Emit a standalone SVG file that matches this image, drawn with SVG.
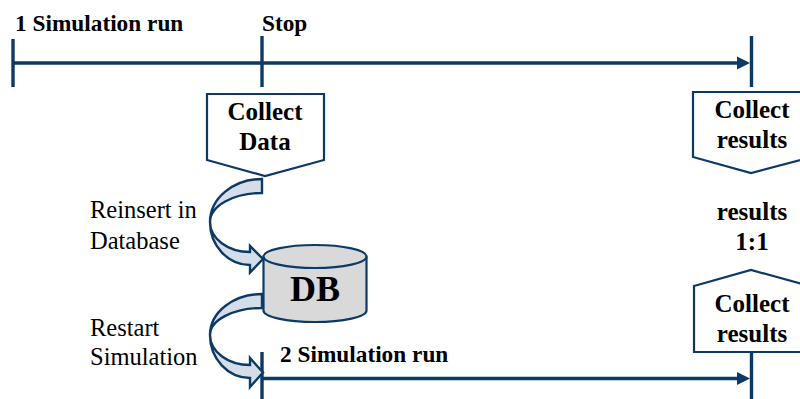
<svg xmlns="http://www.w3.org/2000/svg" width="800" height="399" viewBox="0 0 800 399">
<defs>
<style>
.tl{stroke:#0b3a66;stroke-width:3.4;fill:none}
.box{fill:#ffffff;stroke:#0b3a66;stroke-width:2.2}
.carrow{fill:#d5dee8;stroke:#0b3a66;stroke-width:2.4;stroke-linejoin:miter}
.head{fill:#0b3a66}
.bl{font-family:"Liberation Serif","Times New Roman",serif;font-weight:bold;fill:#000}
.rg{font-family:"Liberation Serif","Times New Roman",serif;fill:#000;font-size:24.5px}
.lbl{font-size:23.3px}
.bx{font-size:25px;text-anchor:middle}
</style>
</defs>
<rect width="800" height="399" fill="#ffffff"/>
<g id="connectors">
<line class="tl" x1="13" y1="63" x2="740" y2="63"/>
<polygon class="head" points="737,56.5 750,63 737,69.5"/>
<line class="tl" x1="13" y1="39" x2="13" y2="87"/>
<line class="tl" x1="262" y1="36" x2="262" y2="87"/>
<line class="tl" x1="751.5" y1="36" x2="751.5" y2="87"/>
<line class="tl" x1="262" y1="378.5" x2="740" y2="378.5"/>
<polygon class="head" points="737,372 750,378.5 737,385"/>
<line class="tl" x1="262" y1="352" x2="262" y2="399"/>
<line class="tl" x1="751.5" y1="352" x2="751.5" y2="399"/>
<path id="arrow-reinsert" class="carrow" d="M262,179 A52,43 0 0 0 210,222 A40,43 0 0 0 250,265 L250,272.5 L263,259 L250,246 L250,252 A40,30 0 0 1 210,222 A52,29 0 0 1 262,193 Z"/>
<path id="arrow-restart" class="carrow" d="M262,294 A52,41 0 0 0 210,335 A40,43 0 0 0 250,378 L250,387 L263,372.5 L250,358 L250,365 A40,30 0 0 1 210,335 A52,27 0 0 1 262,308 Z"/>
</g>
<g id="label-run1"><text class="bl lbl" x="15" y="31">1 Simulation run</text></g>
<g id="label-stop"><text class="bl lbl" x="262" y="31">Stop</text></g>
<g id="label-run2"><text class="bl lbl" x="280" y="362">2 Simulation run</text></g>
<g id="collect-data">
<polygon class="box" points="207,94 324,94 324,160 265,176 207,160"/>
<text class="bl bx" x="265" y="120">Collect</text>
<text class="bl bx" x="265" y="150">Data</text>
</g>
<g id="collect-results-top">
<polygon class="box" points="693,92 812,92 812,157 751,173 693,157"/>
<text class="bl bx" x="752" y="118">Collect</text>
<text class="bl bx" x="752" y="148">results</text>
</g>
<g id="results-ratio">
<text class="bl bx" x="752" y="220">results</text>
<text class="bl bx" x="752" y="250">1:1</text>
</g>
<g id="collect-results-bottom">
<polygon class="box" points="694,286 751,270 810,286 810,352 694,352"/>
<text class="bl bx" x="752" y="312">Collect</text>
<text class="bl bx" x="752" y="342">results</text>
</g>
<g id="db">
<path d="M263.5,256.5 L263.5,310.5 A51.5,11.5 0 0 0 366.5,310.5 L366.5,256.5" fill="#d9d9d9" stroke="#0b3a66" stroke-width="2.2"/>
<ellipse cx="315" cy="256.5" rx="51.5" ry="11.5" fill="#d9d9d9" stroke="#0b3a66" stroke-width="2.2"/>
<text class="bl" x="315" y="301" font-size="36" text-anchor="middle">DB</text>
</g>
<g id="label-reinsert">
<text class="rg" x="90" y="218">Reinsert in</text>
<text class="rg" x="90" y="249">Database</text>
</g>
<g id="label-restart">
<text class="rg" x="90" y="336">Restart</text>
<text class="rg" x="90" y="365">Simulation</text>
</g>
</svg>
